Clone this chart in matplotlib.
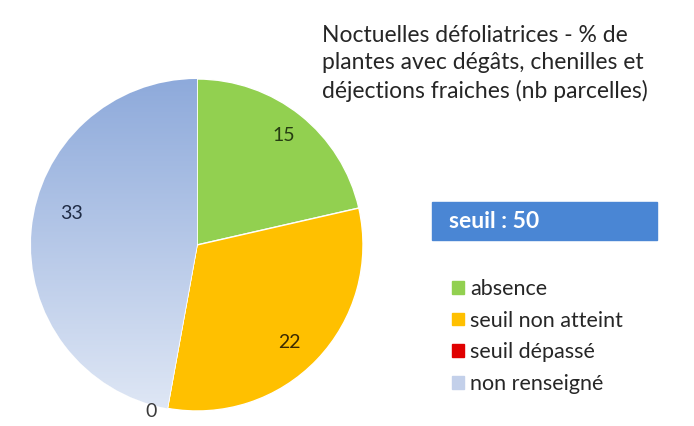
import numpy as np
import matplotlib
matplotlib.use("Agg")
from matplotlib import pyplot as plt

# data
categories = ["absence", "seuil non atteint", "seuil dépassé", "non renseigné"]
counts = [15, 22, 0, 33]
title = "Noctuelles défoliatrices - % de\nplantes avec dégâts, chenilles et\ndéjections fraiches (nb parcelles)"
threshold_label = "seuil : 50"

colors = ["#92d050", "#ffc000", "#e00000", "#b4c6e7"]
label_colors = ["#263d12", "#3b2a00", "#3a3a3a", "#1f2b45"]
# label placement: radial distance and angular nudge (deg), like Excel "best fit"
label_dist = [0.84, 0.81, 1.04, 0.78]
label_turn = [0, -3, -5, -9]

plt.rcParams["font.family"] = ["Lato", "DejaVu Sans"]

W, H = 694, 426
fig = plt.figure(figsize=(W / 100, H / 100), dpi=100)
fig.patch.set_facecolor("white")

# pie axes, placed in pixels
cx, cy, r = 197, 245, 166
ax = fig.add_axes([(cx - r) / W, (H - cy - r) / H, 2 * r / W, 2 * r / H])
wedges, _ = ax.pie(counts, colors=colors, startangle=90, counterclock=False,
                   wedgeprops=dict(linewidth=1.0, edgecolor="white"))
ax.set_xlim(-1, 1)
ax.set_ylim(-1, 1)
ax.set_aspect("equal")
ax.axis("off")

# gradient fill on the "non renseigné" slice
grad = np.linspace(0, 1, 256).reshape(-1, 1)
cmap = matplotlib.colors.LinearSegmentedColormap.from_list("b", ["#8eaadb", "#dfe7f5"])
im = ax.imshow(grad, extent=(-1, 1, -1, 1), origin="upper", cmap=cmap,
               aspect="auto", zorder=wedges[3].get_zorder() + 0.1)
im.set_clip_path(wedges[3])

# data labels
for w, n, c, d, t in zip(wedges, counts, label_colors, label_dist, label_turn):
    ang = np.deg2rad((w.theta1 + w.theta2) / 2 + t)
    ax.text(d * np.cos(ang), d * np.sin(ang), str(n), ha="center", va="center",
            fontsize=14, color=c, zorder=5, clip_on=False)

# title
fig.text(322 / W, 1 - 25 / H, title, ha="left", va="top", fontsize=16.5,
         color="#262626", linespacing=1.38)

# threshold box
fig.patches.append(plt.Rectangle((432 / W, 1 - 240 / H), 225 / W, 38 / H,
                                 transform=fig.transFigure, color="#4a86d4"))
fig.text(449 / W, 1 - 222 / H, threshold_label, ha="left", va="center",
         fontsize=16.5, color="white", fontweight="bold")

# legend
handles = [plt.Rectangle((0, 0), 1, 1, color=c) for c in colors]
handles[3] = plt.Rectangle((0, 0), 1, 1, color="#c3d0ea")
fig.legend(handles, categories, loc="upper left", bbox_to_anchor=(441 / W, 1 - 268 / H),
           frameon=False, fontsize=15.5, handlelength=0.55, handleheight=0.55,
           handletextpad=0.3, labelspacing=0.55, borderpad=0, labelcolor="#262626")

fig.savefig("out.png", dpi=100, facecolor="white")
